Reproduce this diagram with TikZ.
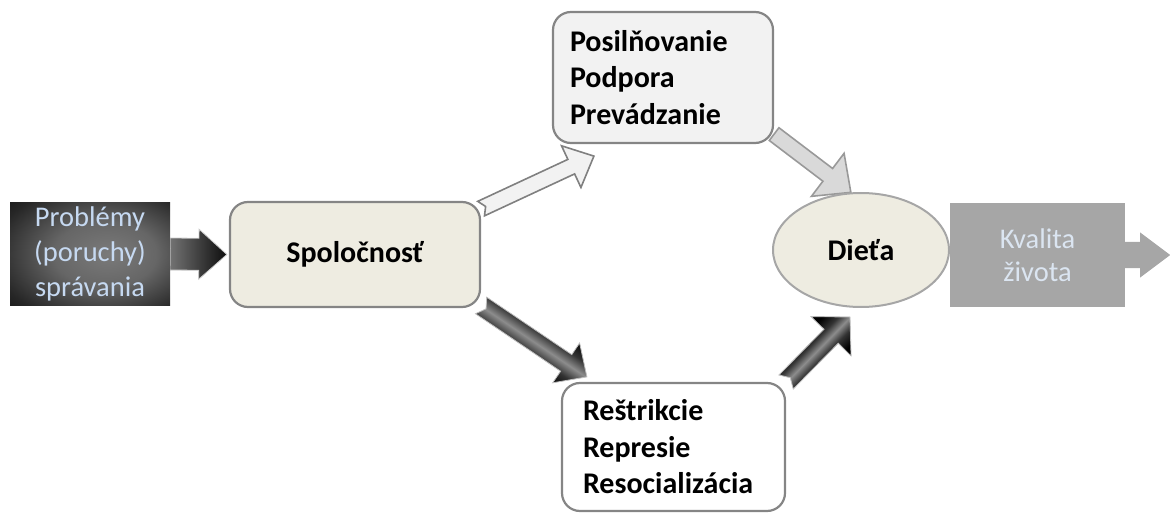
\documentclass[tikz,border=0pt]{standalone}
\usepackage{fontspec}
\setmainfont{Carlito}
\usetikzlibrary{calc,shapes.geometric}
\pgfdeclarelayer{background}
\pgfsetlayers{background,main}

\definecolor{tanfill}{HTML}{EEECE1}
\definecolor{palefill}{HTML}{F2F2F2}
\definecolor{paletext}{HTML}{DBE5F1}
\definecolor{bluetext}{HTML}{C6D9F1}
\definecolor{qgray}{HTML}{A6A6A6}

% soft dark glow for the source box
\pgfdeclareradialshading{probglow}{\pgfpoint{6bp}{0bp}}{%
  color(0bp)=(black!52); color(16bp)=(black!60); color(34bp)=(black!85);
  color(50bp)=(black!98); color(80bp)=(black)}
% metallic ridge for the dark arrows (light stripe along the axis)
\pgfdeclareverticalshading{darkridge}{100bp}{%
  color(0bp)=(black); color(36bp)=(black); color(44bp)=(black!80);
  color(50bp)=(black!45); color(56bp)=(black!80); color(64bp)=(black);
  color(100bp)=(black)}

% block arrow: [style]{tail}{tip}{body half-width}{head half-width}{head length}{tail notch}
\newcommand\blockarrow[7][]{%
  \coordinate (ba-t) at (#2);
  \coordinate (ba-p) at (#3);
  \coordinate (ba-n) at ($(ba-p)!#6!(ba-t)$);
  \pgfmathanglebetweenpoints{\pgfpointanchor{ba-t}{center}}{\pgfpointanchor{ba-p}{center}}%
  \let\baang\pgfmathresult
  \path[#1] ($(ba-t)!#4!90:(ba-p)$) -- ($(ba-n)!#4!90:(ba-p)$)
    -- ($(ba-n)!#5!90:(ba-p)$) -- (ba-p) -- ($(ba-n)!#5!-90:(ba-p)$)
    -- ($(ba-n)!#4!-90:(ba-p)$) -- ($(ba-t)!#4!-90:(ba-p)$)
    -- ($(ba-t)!#7!(ba-p)$) -- cycle;
}

\begin{document}
\begin{tikzpicture}[x=1pt, y=-1pt,
  boldtxt/.style={font=\fontsize{30}{36.5}\selectfont\bfseries},
  roundbox/.style={draw=black!48, line width=2.2pt, rounded corners=18pt,
    inner sep=0pt, boldtxt},
  darkarrow/.style={shading=darkridge, shading angle=\baang, draw=black!25,
    line width=0.8pt, line join=miter},
  leftarrow/.style={shade, left color=black!55, right color=black!95,
    draw=black!20, line width=0.8pt},
  lightarrow/.style={fill=palefill, draw=black!50, line width=1.6pt},
  greyarrow/.style={fill=black!15, draw=black!40, line width=1.6pt},
  outarrow/.style={fill=qgray}]
\useasboundingbox (0,0) rectangle (1170,513);

% boxes
\node[shading=probglow, text=bluetext,
  minimum width=160pt, minimum height=102pt, inner sep=0pt, align=center,
  font=\fontsize{28.5}{35}\selectfont] (prob) at (90,254) {Problémy\\(poruchy)\\správania};
\node[roundbox, fill=tanfill, minimum width=250pt, minimum height=105pt]
  (spol) at (355,254.5) {Spoločnosť};
\node[roundbox, fill=palefill, minimum width=220pt, minimum height=131pt,
  text width=186pt, align=left] (top) at (663,77.5) {Posilňovanie\\Podpora\\Prevádzanie};
\node[roundbox, fill=white, minimum width=223pt, minimum height=128pt,
  text width=181pt, align=left] (bot) at (673.5,447) {Reštrikcie\\Represie\\Resocializácia};
\node[ellipse, draw=black!35, line width=2pt, fill=tanfill, minimum width=176pt,
  minimum height=114pt, inner sep=0pt, boldtxt]
  (diet) at (861,250) {Dieťa};
\node[rectangle, fill=qgray, minimum width=175pt, minimum height=104pt, inner sep=0pt,
  text=paletext, align=center, font=\fontsize{28.5}{33}\selectfont]
  (kval) at (1037.5,255) {Kvalita\\života};
\coordinate (kvtip) at ($(kval.east)+(45,0)$);

% connectors
\begin{pgfonlayer}{background}
  \blockarrow[leftarrow]{prob.east}{$(spol.west)+(-2,0)$}{16pt}{25pt}{28pt}{0pt}
  \blockarrow[lightarrow]{spol.20}{$(top.south west)+(42,12)$}{8pt}{23pt}{25pt}{5pt}
  \blockarrow[greyarrow]{top.-27}{diet.100}{8pt}{27pt}{29pt}{0pt}
  \blockarrow[darkarrow]{spol.-22}{$(bot.north west)+(26,-5)$}{10pt}{24pt}{25pt}{6pt}
  \blockarrow[darkarrow]{bot.30}{$(diet.south)+(-11,9)$}{10pt}{28pt}{27pt}{6pt}
  \blockarrow[outarrow]{kval.east}{kvtip}{13pt}{22.5pt}{30pt}{0pt}
\end{pgfonlayer}
\end{tikzpicture}
\end{document}
